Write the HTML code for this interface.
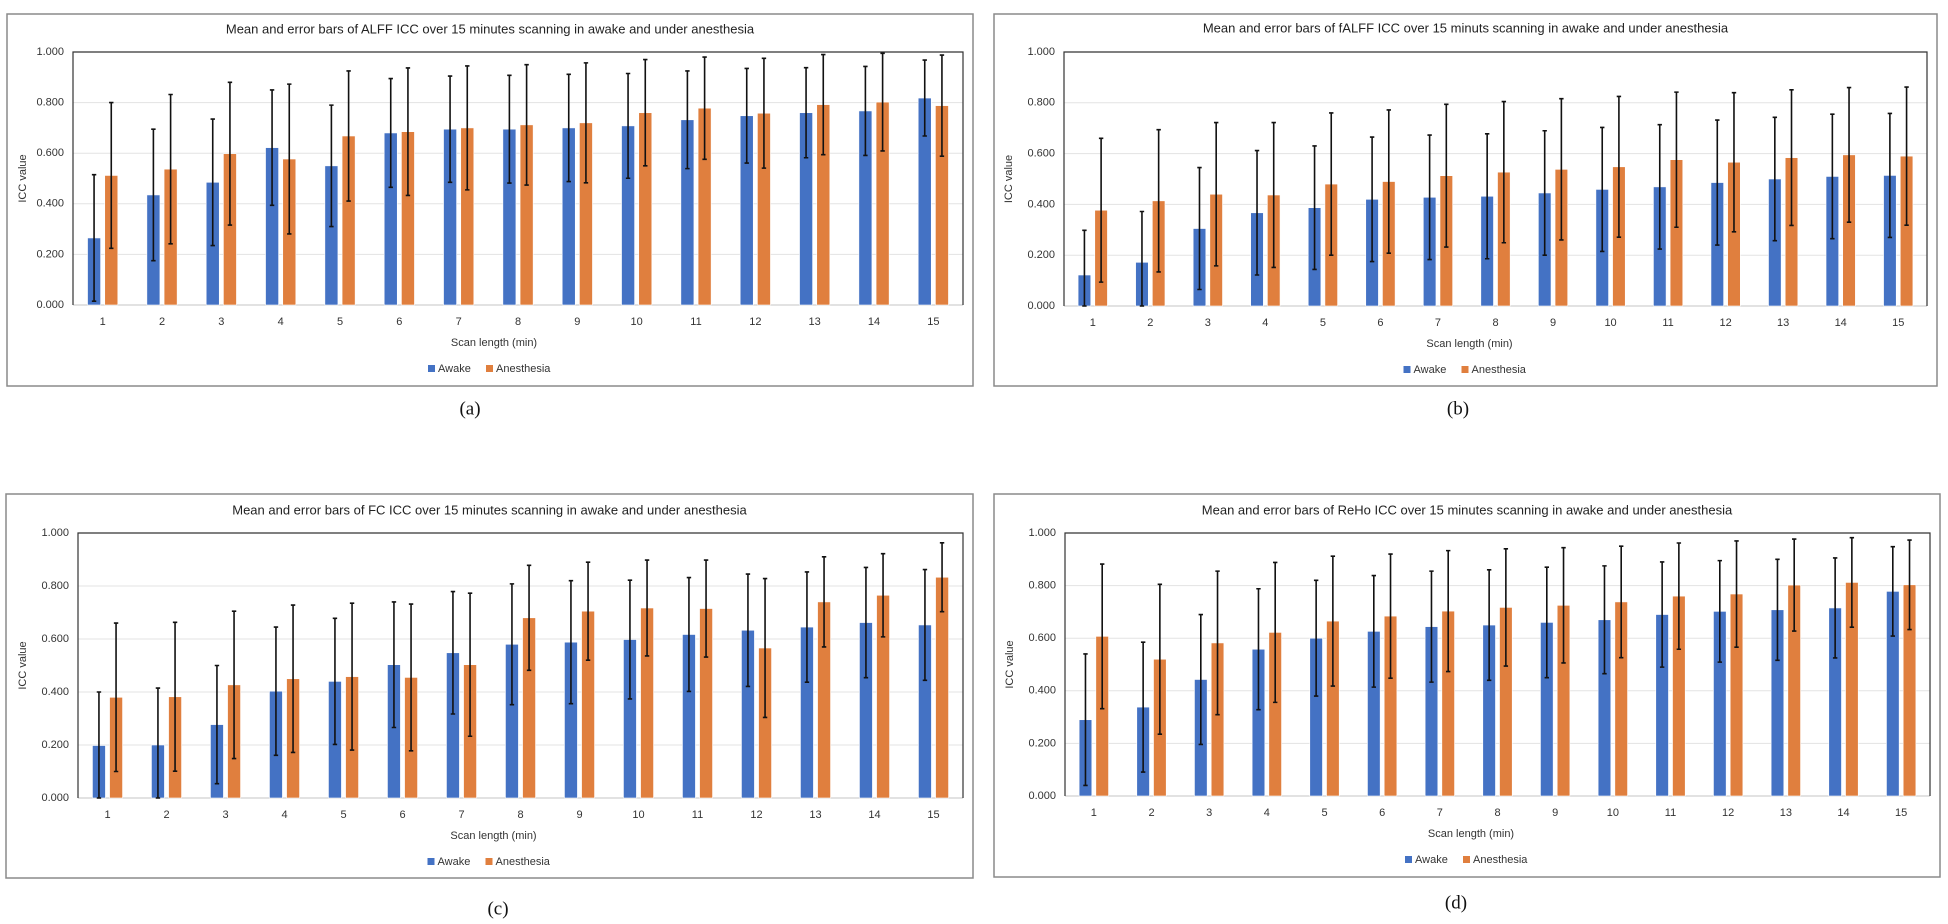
<!DOCTYPE html>
<html><head><meta charset="utf-8"><style>
html,body{margin:0;padding:0;background:#fff;}
svg{display:block;font-family:"Liberation Sans",sans-serif;}
</style></head><body>
<svg id="fig" width="1948" height="924" viewBox="0 0 1948 924" xmlns="http://www.w3.org/2000/svg"></svg>
<script>
const categories = ["1","2","3","4","5","6","7","8","9","10","11","12","13","14","15"];
const yTicks = [0, 0.2, 0.4, 0.6, 0.8, 1.0];
const yTickLabels = ["0.000","0.200","0.400","0.600","0.800","1.000"];
const seriesNames = ["Awake","Anesthesia"];

const alffAwake = [0.265,0.435,0.485,0.622,0.550,0.680,0.695,0.695,0.700,0.708,0.732,0.748,0.760,0.767,0.818];
const alffAwakeErr = [0.25,0.26,0.25,0.228,0.24,0.215,0.21,0.213,0.212,0.207,0.193,0.187,0.178,0.176,0.15];
const alffAnes = [0.512,0.537,0.598,0.577,0.668,0.685,0.700,0.712,0.720,0.760,0.778,0.758,0.792,0.802,0.788];
const alffAnesErr = [0.288,0.295,0.282,0.296,0.257,0.252,0.245,0.238,0.237,0.21,0.202,0.217,0.198,0.193,0.2];

const falffAwake = [0.122,0.172,0.305,0.367,0.387,0.420,0.428,0.432,0.445,0.459,0.469,0.486,0.500,0.510,0.514];
const falffAwakeErr = [0.176,0.2,0.24,0.245,0.243,0.245,0.245,0.246,0.245,0.244,0.245,0.246,0.243,0.245,0.244];
const falffAnes = [0.377,0.414,0.440,0.437,0.480,0.490,0.513,0.527,0.538,0.548,0.576,0.566,0.584,0.595,0.590];
const falffAnesErr = [0.283,0.28,0.282,0.285,0.28,0.282,0.281,0.278,0.278,0.277,0.266,0.274,0.267,0.265,0.272];

const fcAwake = [0.198,0.200,0.277,0.403,0.440,0.503,0.548,0.580,0.588,0.598,0.617,0.633,0.645,0.662,0.653];
const fcAwakeErr = [0.202,0.215,0.223,0.242,0.238,0.237,0.231,0.228,0.232,0.224,0.215,0.212,0.208,0.208,0.209];
const fcAnes = [0.380,0.382,0.427,0.450,0.458,0.455,0.503,0.680,0.705,0.717,0.715,0.566,0.740,0.765,0.833];
const fcAnesErr = [0.28,0.281,0.278,0.278,0.277,0.277,0.27,0.198,0.185,0.181,0.183,0.262,0.17,0.157,0.13];

const rehoAwake = [0.290,0.338,0.443,0.558,0.600,0.626,0.644,0.650,0.660,0.670,0.690,0.702,0.708,0.715,0.778];
const rehoAwakeErr = [0.25,0.247,0.247,0.23,0.22,0.212,0.211,0.21,0.21,0.205,0.2,0.193,0.192,0.19,0.17];
const rehoAnes = [0.607,0.520,0.582,0.622,0.665,0.684,0.703,0.717,0.725,0.738,0.760,0.768,0.802,0.812,0.803];
const rehoAnesErr = [0.275,0.285,0.273,0.266,0.247,0.236,0.23,0.223,0.219,0.212,0.202,0.202,0.175,0.17,0.17];

const NS = "http://www.w3.org/2000/svg";
const fig = document.getElementById("fig");
function mk(tag, attrs, parent, text){
  const e = document.createElementNS(NS, tag);
  for (const k in attrs) e.setAttribute(k, attrs[k]);
  if (text !== undefined) e.textContent = text;
  parent.appendChild(e);
  return e;
}
const BLUE = "#4472c4", ORANGE = "#e07f3e";

function panel(key, cfg, awake, awakeErr, anes, anesErr){
  const g = mk("g", {}, fig);
  
  
  const box = mk("rect", {x:cfg.bx0, y:cfg.by0, width:cfg.bx1-cfg.bx0, height:cfg.by1-cfg.by0, fill:"#fff", stroke:"#8a8a8a", "stroke-width":1.5}, g);
  
  
  const cx = (cfg.bx0+cfg.bx1)/2;
  const t = mk("text", {x:cx, y:cfg.titleY, "text-anchor":"middle", "font-size":13, fill:"#222", "dominant-baseline":"middle"}, g, cfg.title);
  
  
  const L = cfg.px0, R = cfg.px1, T = cfg.py0, B = cfg.py1;
  const yS = v => B - v*(B-T);
  const cw = (R-L)/categories.length;
  const xC = i => L + cw*(i+0.5);
  yTicks.forEach((v,i)=>{
    if (i>0 && i<yTicks.length-1){
      const gl = mk("line", {x1:L, x2:R, y1:yS(v), y2:yS(v), stroke:"#e3e3e3", "stroke-width":1}, g);
      
      
    }
    const tl = mk("text", {x:L-9, y:yS(v), "text-anchor":"end", "dominant-baseline":"middle", "font-size":11, fill:"#333"}, g, yTickLabels[i]);
    
    
  });
  const base = mk("line", {x1:L, x2:R, y1:B, y2:B, stroke:"#d9d9d9", "stroke-width":1.5}, g);
  
  
  const pb = mk("path", {d:`M${L},${B} L${L},${T} L${R},${T} L${R},${B}`, fill:"none", stroke:"#333", "stroke-width":1.2}, g);
  
  
  const bw = cw*0.22, off = cw*0.145;
  const series = [[awake, awakeErr, BLUE, -off, "awake"],[anes, anesErr, ORANGE, off, "anesthesia"]];
  categories.forEach((c,i)=>{
    series.forEach(s=>{
      const v = s[0][i], e = s[1][i], x = xC(i)+s[3];
      const r = mk("rect", {x:x-bw/2, y:yS(v), width:bw, height:B-yS(v), fill:s[2], stroke:"#fff", "stroke-width":0.6}, g);
      
      
      const hi = Math.min(v+e, 1.0), lo = Math.max(v-e, 0);
      const eb = mk("path", {d:`M${x},${yS(hi)} L${x},${yS(lo)} M${x-2.2},${yS(hi)} L${x+2.2},${yS(hi)} M${x-2.2},${yS(lo)} L${x+2.2},${yS(lo)}`, stroke:"#111", "stroke-width":1.6, fill:"none"}, g);
      
      
    });
    const xl = mk("text", {x:xC(i), y:B+17, "text-anchor":"middle", "dominant-baseline":"middle", "font-size":11, fill:"#333"}, g, c);
    
    
  });
  const yt = mk("text", {x:0, y:0, transform:`translate(${cfg.yLabX},${(T+B)/2}) rotate(-90)`, "text-anchor":"middle", "dominant-baseline":"middle", "font-size":11, fill:"#333"}, g, "ICC value");
  
  
  const xt = mk("text", {x:cx+4, y:B+38, "text-anchor":"middle", "dominant-baseline":"middle", "font-size":11, fill:"#333"}, g, "Scan length (min)");
  
  
  const ly = B+64, lx = cx-62;
  const lg = mk("g", {}, g);
  
  
  const s1 = mk("rect", {x:lx, y:ly-4, width:7, height:7, fill:BLUE}, lg);
  
  
  const t1 = mk("text", {x:lx+10, y:ly, "dominant-baseline":"middle", "font-size":11, fill:"#333"}, lg, seriesNames[0]);
  
  
  const s2 = mk("rect", {x:lx+58, y:ly-4, width:7, height:7, fill:ORANGE}, lg);
  
  
  const t2 = mk("text", {x:lx+68, y:ly, "dominant-baseline":"middle", "font-size":11, fill:"#333"}, lg, seriesNames[1]);
  
  
  const cap = mk("text", {x:cfg.capX, y:cfg.capY, "text-anchor":"middle", "dominant-baseline":"middle", "font-size":19, fill:"#111", "font-family":"Liberation Serif, serif"}, fig, cfg.cap);
  
  
}

panel("alff", {bx0:7,bx1:973,by0:14,by1:386,px0:73,px1:963,py0:52,py1:305,titleY:30,yLabX:23,capX:470,capY:410,cap:"(a)",
  title:"Mean and error bars of ALFF ICC over 15 minutes scanning in awake and under anesthesia"}, alffAwake, alffAwakeErr, alffAnes, alffAnesErr);
panel("falff", {bx0:994,bx1:1937,by0:14,by1:386,px0:1064,px1:1927,py0:52,py1:306,titleY:29,yLabX:1009,capX:1458,capY:410,cap:"(b)",
  title:"Mean and error bars of fALFF ICC over 15 minuts scanning in awake and under anesthesia"}, falffAwake, falffAwakeErr, falffAnes, falffAnesErr);
panel("fc", {bx0:6,bx1:973,by0:494,by1:878,px0:78,px1:963,py0:533,py1:798,titleY:511,yLabX:23,capX:498,capY:910,cap:"(c)",
  title:"Mean and error bars of FC ICC over 15 minutes scanning in awake  and under anesthesia"}, fcAwake, fcAwakeErr, fcAnes, fcAnesErr);
panel("reho", {bx0:994,bx1:1940,by0:494,by1:877,px0:1065,px1:1930,py0:533,py1:796,titleY:511,yLabX:1010,capX:1456,capY:904,cap:"(d)",
  title:"Mean and error bars of ReHo ICC over 15 minutes scanning  in awake and under anesthesia"}, rehoAwake, rehoAwakeErr, rehoAnes, rehoAnesErr);
</script>
</body></html>
